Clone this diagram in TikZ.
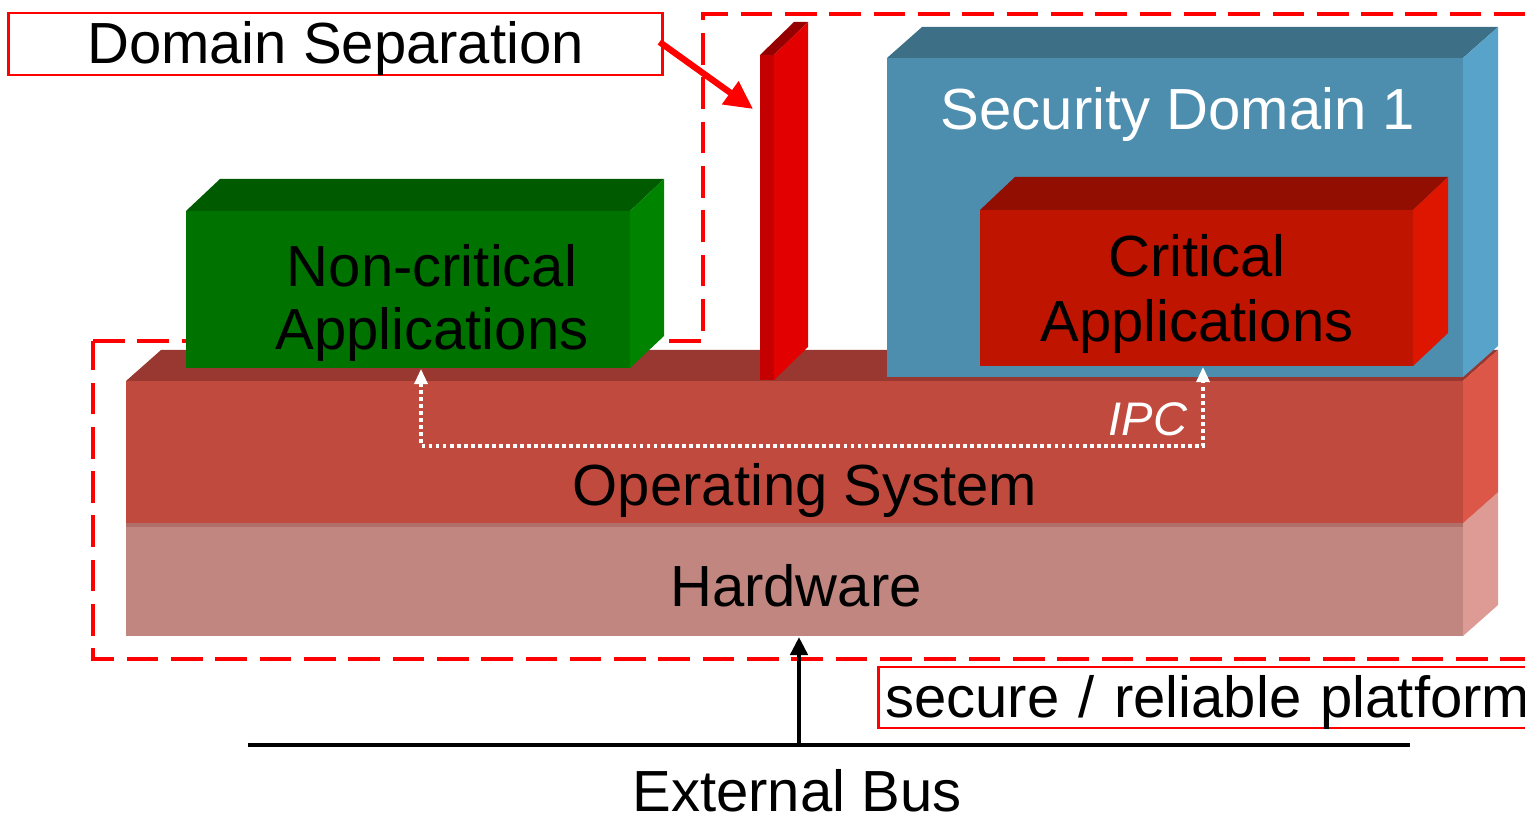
\documentclass[tikz,border=0pt]{standalone}
\usepackage{fontspec}
\setmainfont{Liberation Sans}
\usetikzlibrary{arrows.meta}
\definecolor{hwF}{RGB}{192,134,127}
\definecolor{hwS}{RGB}{222,154,148}
\definecolor{hwT}{RGB}{176,112,106}
\definecolor{osF}{RGB}{193,74,62}
\definecolor{osT}{RGB}{153,56,48}
\definecolor{osS}{RGB}{221,87,72}
\definecolor{gnF}{RGB}{0,114,0}
\definecolor{gnT}{RGB}{0,90,0}
\definecolor{gnS}{RGB}{0,132,0}
\definecolor{wlF}{RGB}{196,0,0}
\definecolor{wlT}{RGB}{150,0,0}
\definecolor{wlS}{RGB}{226,0,0}
\definecolor{blF}{RGB}{77,141,174}
\definecolor{blT}{RGB}{61,112,134}
\definecolor{blS}{RGB}{88,163,201}
\definecolor{crF}{RGB}{190,20,0}
\definecolor{crT}{RGB}{146,14,0}
\definecolor{crS}{RGB}{222,22,0}
% x1 y1 x2 y2 dx dy front top side
\newcommand\cubebox[9]{%
  \fill[#7] (#1,#2) rectangle (#3,#4);
  \fill[#8] (#1,#2) -- (#1+#5,#2-#6) -- (#3+#5,#2-#6) -- (#3,#2) -- cycle;
  \fill[#9] (#3,#2) -- (#3+#5,#2-#6) -- (#3+#5,#4-#6) -- (#3,#4) -- cycle;
}
\begin{document}
\begin{tikzpicture}[x=0.01cm,y=-0.01cm,
  font=\fontsize{16.5}{18}\selectfont,
  platformline/.style={draw=red, line width=0.94pt, dash pattern=on 9pt off 3.6pt},
  labelbox/.style={draw=red, line width=0.75pt, fill=white, inner sep=0pt},
  txt/.style={anchor=base, inner sep=0pt},
  wtxt/.style={txt, text=white},
  ipc/.style={draw=white, line width=0.9pt, dash pattern=on 1.1pt off 0.9pt,
    {Triangle[width=0.13cm,length=0.15cm,fill=white]}-{Triangle[width=0.13cm,length=0.15cm,fill=white]}},
  redarrow/.style={draw=red, line width=1.8pt, -{Triangle[width=0.27cm,length=0.28cm]}},
  busarrow/.style={draw=black, line width=1.4pt, -{Triangle[width=0.17cm,length=0.18cm]}},
  busline/.style={draw=black, line width=1.4pt}]
\useasboundingbox (0,0) rectangle (1525,819);
\clip (0,0) rectangle (1525,819);
% secure platform outline
\draw[platformline] (93,341) -- (703,341) -- (703,14) -- (1545,14) -- (1545,659) -- (93,659) -- cycle;
% layers
\cubebox{126}{523}{1463}{636}{35}{31}{hwF}{hwT}{hwS}
\fill[hwT] (126,523) rectangle (1463,527);
\cubebox{126}{381}{1463}{523}{35}{31}{osF}{osT}{osS}
\cubebox{186}{211}{630}{368}{34}{32}{gnF}{gnT}{gnS}
\cubebox{760}{55}{774}{380}{34}{33}{wlF}{wlT}{wlS}
\cubebox{887}{58}{1463}{377}{35}{31}{blF}{blT}{blS}
\cubebox{980}{210}{1413}{366}{35}{33}{crF}{crT}{crS}
% texts
\node[txt] (nc1) at (432,287) {Non-critical};
\node[txt] (nc2) at (432,350) {Applications};
\node[wtxt] (sd) at (1178,130) {Security Domain 1};
\node[txt] (ca1) at (1197,277) {Critical};
\node[txt] (ca2) at (1197,342) {Applications};
\node[txt] (os) at (805,505) {Operating System};
\node[txt] (hw) at (796,606) {Hardware};
\node[txt] (bus) at (797,811) {External Bus};
\node[wtxt, anchor=base east, font=\fontsize{13.4}{15}\selectfont\itshape] (ipclabel) at (1188,436) {IPC};
% IPC connector
\coordinate (ipcA) at (421,369);
\coordinate (ipcB) at (1203,367);
\draw[ipc] (ipcA) -- ++(0,77) -| (ipcB);
% label boxes
\node[labelbox, minimum width=6.53cm, minimum height=0.62cm, text height=0.42cm, text depth=0.04cm] (dsbox) at (335.5,44) {Domain Separation};
\node[labelbox, anchor=west, minimum height=0.61cm, text width=6.7cm, align=left, inner xsep=0.07cm, text height=0.42cm, text depth=0.03cm] (platform) at (877,697.5) {\mbox{secure / reliable platform}};
% domain separation arrow
\coordinate (wallpt) at (753,109);
\draw[redarrow] ([shift={(-4,-2)}]dsbox.east) -- (wallpt);
% external bus
\coordinate (busL) at (248,745);
\coordinate (busR) at (1410,745);
\coordinate (busjoin) at (799,745);
\coordinate (hwbottom) at (799,637);
\draw[busline] (busL) -- (busR);
\draw[busarrow] (busjoin) -- (hwbottom);
\end{tikzpicture}
\end{document}
